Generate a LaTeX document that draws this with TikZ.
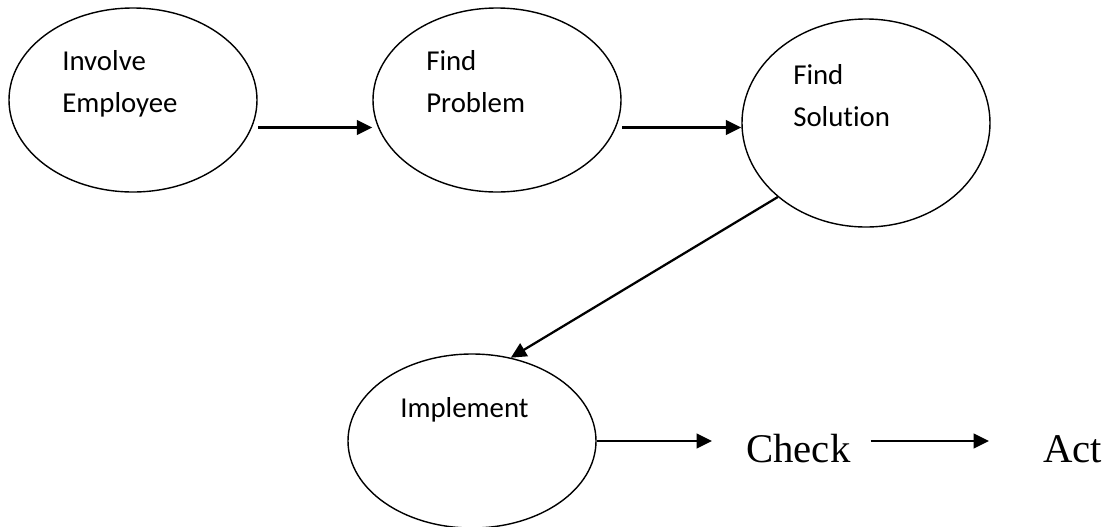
\documentclass[tikz,border=0pt]{standalone}
\usepackage{fontspec}
\setmainfont[Ligatures=NoCommon]{Carlito}
\newfontfamily\serifword{Liberation Serif}
\usetikzlibrary{shapes.geometric,arrows.meta,positioning}
\tikzset{>={Triangle[length=11pt,width=10.5pt]}}

\begin{document}
\begin{tikzpicture}[scale=1,
                    stage/.style={draw, ellipse, line width=1pt, minimum width=6.2cm, minimum height=4.6cm, inner sep=0pt},
                    stagetext/.style={anchor=base west, inner sep=0pt, align=left, font=\fontsize{20.5}{29.2}\selectfont},
                    word/.style={anchor=base west, inner sep=0pt, font=\serifword\fontsize{29}{34}\selectfont},
                    flow/.style={line width=1.6pt, ->},
                   ]

\useasboundingbox (0,0) rectangle (27.7,-13.15);

\node[stage] (inv) at (3.325,-2.5) {};
\node[stage] (prob) at (12.425,-2.5) {};
\node[stage, minimum height=5.2cm] (sol) at (21.65,-3.075) {};
\node[stage, minimum height=4.35cm] (impl) at (11.8,-11.025) {};

% base anchor sits on the last line
\node[stagetext] (invtxt) at (1.55,-2.8) {Involve\\Employee};
\node[stagetext] (probtxt) at (10.65,-2.8) {Find\\Problem};
\node[stagetext] (soltxt) at (19.825,-3.15) {Find\\Solution};
\node[stagetext] (impltxt) at (10.0,-10.425) {Implement};

\node[word] (chk) at (18.65,-11.55) {Check};
\node[word] (act) at (26.075,-11.55) {Act};

\draw[flow] ([xshift=0.15cm]inv.-13) -- (inv.-13 -| prob.west);
\draw[flow] ([xshift=0.15cm]prob.-13) -- (prob.-13 -| sol.west);
\draw[flow] (sol.220) -- (impl.65);
\draw[flow, shorten >=0.85cm] (impl.east) -- (impl.east -| chk.west);
\draw[flow, shorten <=0.5cm, shorten >=1.35cm] (chk.east |- impl.east) -- (act.west |- impl.east);

\end{tikzpicture}
\end{document}
